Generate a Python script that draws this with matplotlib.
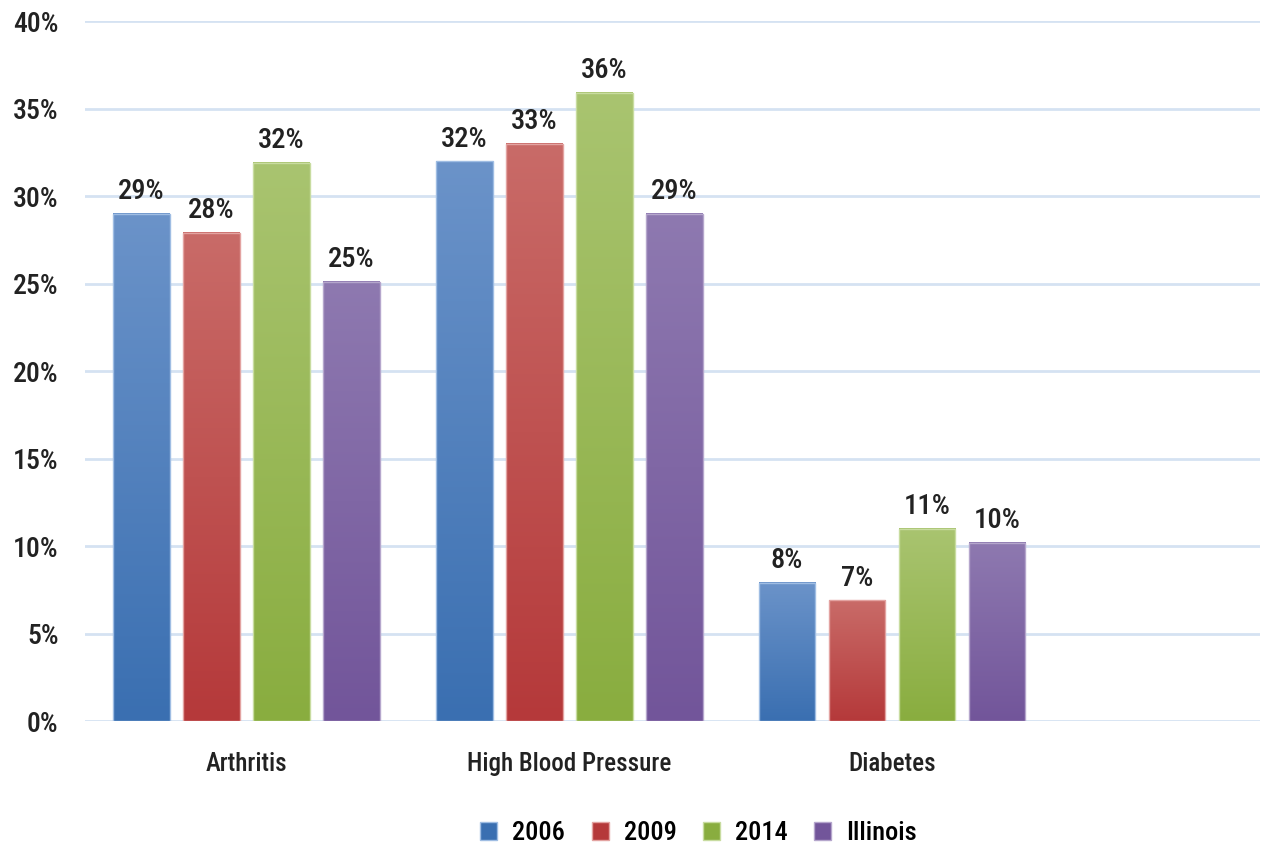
import numpy as np
import matplotlib.pyplot as plt
from matplotlib.colors import LinearSegmentedColormap
from matplotlib.patches import Patch

plt.rcParams['font.family'] = ['Roboto Condensed', 'Roboto', 'DejaVu Sans']
plt.rcParams['font.weight'] = 'medium'

# data
categories = ['Arthritis', 'High Blood Pressure', 'Diabetes']
series = ['2006', '2009', '2014', 'Illinois']
v2006 = [29.0, 32.0, 7.9]
v2009 = [27.9, 33.0, 6.9]
v2014 = [31.9, 35.9, 11.0]
villinois = [25.1, 29.0, 10.2]
labels = [['29%', '32%', '8%'], ['28%', '33%', '7%'], ['32%', '36%', '11%'], ['25%', '29%', '10%']]

values = [v2006, v2009, v2014, villinois]
# (top, bottom) gradient colours
grads = [('#6b93c9', '#3a6fb1'), ('#c96b68', '#b5393a'),
         ('#a9c470', '#89ad3f'), ('#8e79b0', '#72559a')]
edges = ['#9fbde3', '#e3a3a1', '#c8dca0', '#b5a6cc']

fig = plt.figure(figsize=(12.61, 8.46), dpi=100)
ax = fig.add_axes([85 / 1261, 125 / 846, 1175 / 1261, 700 / 846])

x = np.arange(len(categories))
width = 0.176
step = 0.217

for i, vals in enumerate(values):
    cmap = LinearSegmentedColormap.from_list('g', [grads[i][1], grads[i][0]])
    grad = np.linspace(0, 1, 256).reshape(-1, 1)
    for j, v in enumerate(vals):
        xc = x[j] + (i - 1.5) * step
        ax.imshow(grad, cmap=cmap, origin='lower', aspect='auto',
                  extent=[xc - width / 2, xc + width / 2, 0, v], zorder=3)
        ax.bar(xc, v, width, facecolor='none', edgecolor=edges[i], linewidth=1, zorder=4)
        ax.annotate(labels[i][j], (xc, v), xytext=(0, 6), textcoords='offset points',
                    ha='center', va='bottom', fontsize=20.5, color='#222222', zorder=5)

ax.set_xlim(-0.5, 3.14)
ax.set_ylim(0, 40)
ax.set_yticks(np.arange(0, 41, 5))
ax.set_yticklabels([f'{t}%' for t in range(0, 41, 5)], fontsize=20, color='#222222')
ax.set_xticks(x)
ax.set_xticklabels(categories, fontsize=18, color='#222222')
ax.tick_params(axis='y', length=0, pad=19)
ax.tick_params(axis='x', length=0, pad=22)
ax.grid(axis='y', color='#d5e2f2', linewidth=2, zorder=0)
ax.set_axisbelow(True)
for s in ax.spines.values():
    s.set_visible(False)

handles = [Patch(facecolor=g[1], edgecolor=e) for g, e in zip(grads, edges)]
fig.legend(handles, series, loc='center', bbox_to_anchor=(0.554, 0.0154), ncol=4,
           frameon=False, fontsize=19, handlelength=0.65, handleheight=0.65,
           handletextpad=0.57, columnspacing=1.0)

fig.savefig('out.png', dpi=100)
